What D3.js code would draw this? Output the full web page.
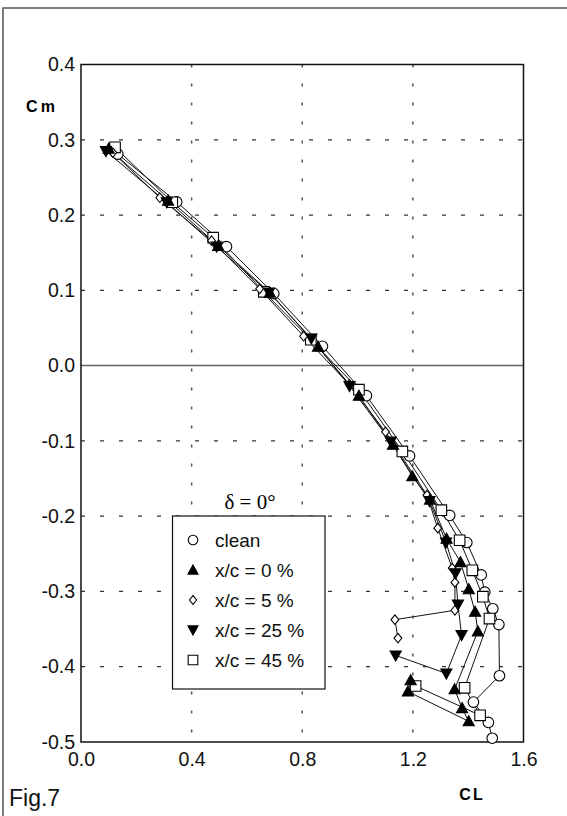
<!DOCTYPE html>
<html><head><meta charset="utf-8">
<script src="https://cdn.jsdelivr.net/npm/d3@7"></script>
<style>body{margin:0;background:#fff}svg{display:block}</style>
</head><body>
<svg id="c" width="567" height="816"></svg>
<script>
// ---- data (CL, Cm) ----
const seriesNames = ["clean", "x/c = 0 %", "x/c = 5 %", "x/c = 25 %", "x/c = 45 %"];
const markers = ["circle", "triUp", "diamond", "triDown", "square"];
const clean = [[0.133,0.281],[0.346,0.2175],[0.526,0.158],[0.697,0.0957],[0.873,0.0257],[1.032,-0.040],[1.188,-0.120],[1.333,-0.199],[1.395,-0.235],[1.447,-0.278],[1.460,-0.301],[1.489,-0.323],[1.511,-0.344],[1.513,-0.412],[1.419,-0.447],[1.473,-0.474],[1.487,-0.495]];
const xc0 = [[0.100,0.288],[0.315,0.219],[0.496,0.159],[0.683,0.097],[0.857,0.025],[1.005,-0.040],[1.128,-0.105],[1.198,-0.147],[1.262,-0.178],[1.322,-0.230],[1.372,-0.261],[1.402,-0.297],[1.425,-0.327],[1.435,-0.353],[1.351,-0.430],[1.378,-0.455],[1.402,-0.4725],[1.182,-0.433],[1.192,-0.418]];
const xc5 = [[0.115,0.283],[0.285,0.223],[0.472,0.166],[0.646,0.102],[0.805,0.039],[0.970,-0.025],[1.101,-0.088],[1.251,-0.172],[1.290,-0.216],[1.342,-0.269],[1.352,-0.288],[1.352,-0.325],[1.135,-0.3375],[1.146,-0.362]];
const xc25 = [[0.090,0.285],[0.310,0.217],[0.490,0.158],[0.680,0.097],[0.833,0.036],[0.971,-0.027],[1.120,-0.101],[1.260,-0.180],[1.320,-0.235],[1.354,-0.276],[1.363,-0.3175],[1.376,-0.358],[1.321,-0.409],[1.138,-0.385]];
const xc45 = [[0.123,0.290],[0.330,0.217],[0.478,0.170],[0.661,0.098],[0.831,0.0345],[1.005,-0.032],[1.162,-0.114],[1.303,-0.192],[1.369,-0.232],[1.415,-0.272],[1.453,-0.307],[1.477,-0.336],[1.387,-0.428],[1.443,-0.4645],[1.210,-0.4256]];
const allSeries = [clean, xc0, xc5, xc25, xc45];
const xTicks = [0.0, 0.4, 0.8, 1.2, 1.6];
const yTicks = [0.4, 0.3, 0.2, 0.1, 0.0, -0.1, -0.2, -0.3, -0.4, -0.5];
const legendTitle = "δ = 0°";

// ---- layout ----
const svg = d3.select("#c");
const L = 81, R = 523.5, T = 64.5, B = 742;
const x = d3.scaleLinear().domain([0, 1.6]).range([L, R]);
const y = d3.scaleLinear().domain([-0.5, 0.4]).range([B, T]);
const fmt = d => d.toFixed(1);

// outer frame
svg.append("rect").attr("x", 3).attr("y", 8).attr("width", 700).attr("height", 900)
  .attr("fill", "none").attr("stroke", "#555").attr("stroke-width", 1.5);

// grid
const g = svg.append("g");
g.selectAll(".hg").data(yTicks.filter(d => d !== 0 && d !== 0.4 && d !== -0.5)).join("line")
  .attr("x1", L).attr("x2", R).attr("y1", d => y(d)).attr("y2", d => y(d))
  .attr("stroke", "#333").attr("stroke-width", 1.2).attr("stroke-dasharray", "4,15");
g.selectAll(".vg").data(xTicks.filter(d => d > 0 && d < 1.6)).join("line")
  .attr("x1", d => x(d)).attr("x2", d => x(d)).attr("y1", T).attr("y2", B)
  .attr("stroke", "#555").attr("stroke-width", 1.5).attr("stroke-dasharray", "3,16");
// zero line
g.append("line").attr("x1", L).attr("x2", R).attr("y1", y(0)).attr("y2", y(0))
  .attr("stroke", "#666").attr("stroke-width", 1.5);

// axes with labels
const yAxis = d3.axisLeft(y).tickValues(yTicks).tickSize(0).tickPadding(6).tickFormat(fmt);
const ya = svg.append("g").attr("transform", `translate(${L},0)`).call(yAxis);
ya.select(".domain").remove();
ya.selectAll("text").attr("font-family", "Liberation Sans, Arial, sans-serif").attr("font-size", 19.5).attr("fill", "#111");
const xAxis = d3.axisBottom(x).tickValues(xTicks).tickSize(0).tickPadding(10).tickFormat(fmt);
const xa = svg.append("g").attr("transform", `translate(0,${B})`).call(xAxis);
xa.select(".domain").remove();
xa.selectAll("text").attr("font-family", "Liberation Sans, Arial, sans-serif").attr("font-size", 19.5).attr("fill", "#111");

// plot box
svg.append("rect").attr("x", L).attr("y", T).attr("width", R - L).attr("height", B - T)
  .attr("fill", "none").attr("stroke", "#111").attr("stroke-width", 1.5);

// marker shapes
function shapePath(type, s) {
  switch (type) {
    case "circle": return `M${-s},0A${s},${s} 0 1,0 ${s},0A${s},${s} 0 1,0 ${-s},0Z`;
    case "square": return `M${-s},${-s}H${s}V${s}H${-s}Z`;
    case "triUp": return `M0,${-s*1.05}L${s*1.05},${s*0.85}L${-s*1.05},${s*0.85}Z`;
    case "triDown": return `M0,${s*1.05}L${s*1.05},${-s*0.85}L${-s*1.05},${-s*0.85}Z`;
    case "diamond": return `M0,${-s*0.95}L${s*0.78},0L0,${s*0.95}L${-s*0.78},0Z`;
  }
}
const sizes = {circle: 5.3, square: 5.3, triUp: 5.3, triDown: 5.3, diamond: 5};
const filled = {circle: false, square: false, triUp: true, triDown: true, diamond: false};

const line = d3.line().x(d => x(d[0])).y(d => y(d[1]));
const order = [0, 4, 2, 3, 1];
order.forEach(i => {
  svg.append("path").attr("d", line(allSeries[i])).attr("fill", "none")
    .attr("stroke", "#111").attr("stroke-width", 1);
});
order.forEach(i => {
  const m = markers[i];
  svg.append("g").selectAll("path").data(allSeries[i]).join("path")
    .attr("transform", d => `translate(${x(d[0])},${y(d[1])})`)
    .attr("d", shapePath(m, sizes[m]))
    .attr("fill", filled[m] ? "#000" : "#fff").attr("stroke", "#000").attr("stroke-width", 1.1);
});

// legend
const lg = svg.append("g");
lg.append("rect").attr("x", 172.5).attr("y", 516).attr("width", 152.5).attr("height", 173)
  .attr("fill", "#fff").attr("stroke", "#111").attr("stroke-width", 1.2);
lg.append("text").attr("x", 250).attr("y", 509).attr("text-anchor", "middle")
  .attr("font-family", "Liberation Serif, Times New Roman, serif").attr("font-size", 21).text(legendTitle);
seriesNames.forEach((name, i) => {
  const cy = 540 + i * 30;
  const m = markers[i];
  lg.append("path").attr("transform", `translate(193,${cy})`).attr("d", shapePath(m, m === "diamond" ? 4.6 : 4.8))
    .attr("fill", filled[m] ? "#000" : "#fff").attr("stroke", "#000").attr("stroke-width", 1.1);
  lg.append("text").attr("x", 215).attr("y", cy).attr("dy", "0.35em")
    .attr("font-family", "Liberation Sans, Arial, sans-serif").attr("font-size", 19).attr("fill", "#111").text(name);
});

// axis titles
svg.append("text").attr("x", 42).attr("y", 112).attr("text-anchor", "middle")
  .attr("font-family", "Liberation Sans, Arial, sans-serif").attr("font-weight", "bold").attr("font-size", 16)
  .attr("letter-spacing", 3).text("Cm");
svg.append("text").attr("x", 472).attr("y", 800).attr("text-anchor", "middle")
  .attr("font-family", "Liberation Sans, Arial, sans-serif").attr("font-weight", "bold").attr("font-size", 16)
  .attr("letter-spacing", 2).text("CL");
svg.append("text").attr("x", 9).attr("y", 806)
  .attr("font-family", "Liberation Sans, Arial, sans-serif").attr("font-size", 23).attr("fill", "#111").text("Fig.7");
</script>
</body></html>
